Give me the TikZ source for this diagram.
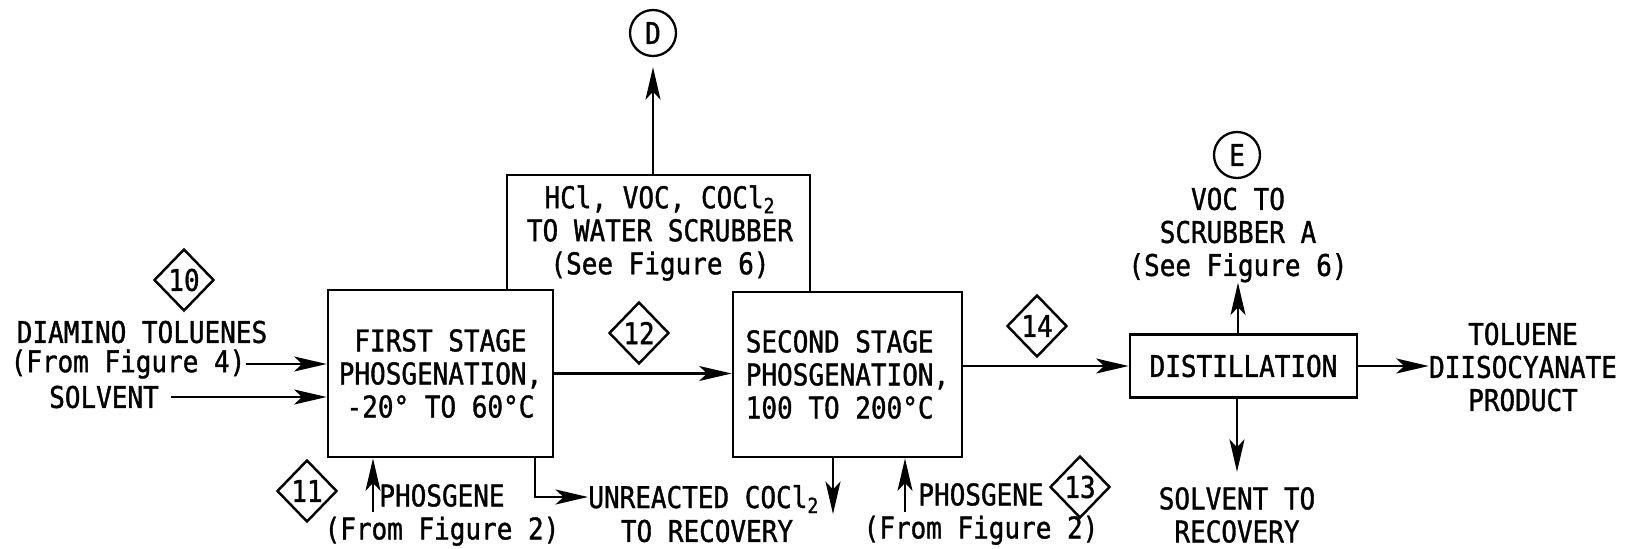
\documentclass[tikz,border=0pt]{standalone}
\usepackage{fontspec}
\setmonofont[FakeStretch=0.87,FakeBold=1.2]{DejaVu Sans Mono}
\usetikzlibrary{arrows.meta,shapes.geometric}

\begin{document}
\begin{tikzpicture}[
      x=0.2mm, y=-0.2mm,
      font=\ttfamily\fontsize{17}{18.8}\selectfont,
      >={Stealth[length=6.5mm,width=3mm,inset=1.6mm]},
      unit/.style={draw,line width=1.6pt,inner sep=0pt,align=center},
      arr/.style={->,line width=1.3pt},
      pipe/.style={line width=1.6pt},
      strm/.style={draw,diamond,line width=1.4pt,inner sep=0pt,minimum width=12mm,minimum height=12.4mm},
      tag/.style={draw,circle,line width=1.3pt,inner sep=0pt,minimum size=9.2mm},
      txt/.style={align=center,inner sep=0pt}
    ]
  \useasboundingbox (0,0) rectangle (1625,549);

  % reactors and column
  \node[unit,minimum width=45mm,minimum height=33.4mm] (first) at (440.5,373.5) {FIRST STAGE\\PHOSGENATION,\\-20° TO 60°C};
  \node[unit,minimum width=45.8mm,minimum height=33mm,align=left] (second) at (847.5,374.5) {SECOND STAGE\\PHOSGENATION,\\100 TO 200°C};
  \node[unit,minimum width=45.4mm,minimum height=12.6mm] (dist) at (1243.5,366) {DISTILLATION};

  % feeds to first stage
  \node[strm] (s10) at (184,280) {10};
  \node[txt] (dat) at (142,332) {DIAMINO TOLUENES};
  \node[txt] (fig4) at (128,364) {(From Figure 4)};
  \node[txt] (solv) at (104,397) {SOLVENT};
  \draw[arr] (fig4.east) -- (fig4.east -| first.west);
  \draw[arr] ([xshift=2.4mm]solv.east) -- (solv.east -| first.west);

  \node[strm] (s11) at (307,491) {11};
  \node[txt] (ph1) at (442,515) {PHOSGENE\\(From Figure 2)};
  \coordinate (ph1in) at (373,512);
  \draw[arr] (ph1in) -- (ph1in |- first.south);

  \node[txt,anchor=base west] (unr) at (588,508) {UNREACTED COCl\textsubscript{2}};
  \node[txt] (torec) at (707,531) {TO RECOVERY};
  \draw[arr] (first.south -| 535,0) |- ([yshift=2.2mm]unr.base west);

  % vent gases
  \node[txt] (scrub) at (660,233) {HCl, VOC, COCl\textsubscript{2}\\TO WATER SCRUBBER\\(See Figure 6)};
  \coordinate (scrl) at (507,175);
  \coordinate (scrr) at (810,175);
  \draw[pipe] (first.north -| scrl) -- (scrl) -- (scrr) -- (second.north -| scrr);
  \node[tag] (tagD) at (653,33) {D};
  \draw[arr,shorten >=2mm] (scrl -| tagD) -- (tagD);

  % first to second stage
  \node[strm] (s12) at (639,333) {12};
  \draw[arr] (first.east) -- (first.east -| second.west);

  \coordinate (unr2) at (833,514);
  \draw[arr] (second.south -| unr2) -- (unr2);
  \coordinate (ph2in) at (905,512);
  \draw[arr] (ph2in) -- (ph2in |- second.south);
  \node[txt] (ph2) at (981,514) {PHOSGENE\\(From Figure 2)};
  \node[strm] (s13) at (1080,487) {13};

  % second stage to distillation
  \node[strm] (s14) at (1037,326) {14};
  \draw[arr] (second.east |- dist.west) -- (dist.west);

  \node[tag] (tagE) at (1237,155) {E};
  \node[txt] (voc) at (1238,235) {VOC TO\\SCRUBBER A\\(See Figure 6)};
  \draw[arr] (voc.south |- dist.north) -- (voc.south);
  \node[txt] (solrec) at (1237,515) {SOLVENT TO\\RECOVERY};
  \draw[arr] (solrec.north |- dist.south) -- ([yshift=3mm]solrec.north);
  \node[txt] (prod) at (1523,367) {TOLUENE\\DIISOCYANATE\\PRODUCT};
  \draw[arr] (dist.east) -- (dist.east -| prod.west);
\end{tikzpicture}
\end{document}
